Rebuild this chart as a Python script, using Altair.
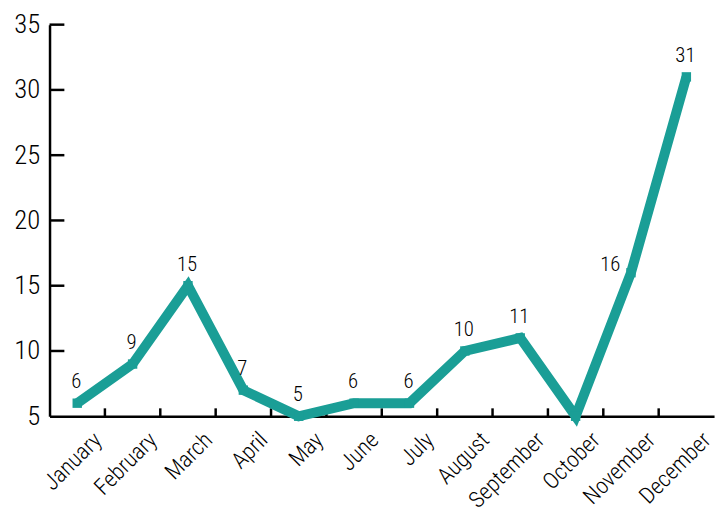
import altair as alt
import pandas as pd

months = ["January", "February", "March", "April", "May", "June", "July",
          "August", "September", "October", "November", "December"]
values = [6, 9, 15, 7, 5, 6, 6, 10, 11, 5, 16, 31]
y_ticks = [10, 15, 20, 25, 30, 35]

TEAL = "#1a9e96"
FONT = "Roboto Condensed, Liberation Sans Narrow, DejaVu Sans Condensed, Roboto, sans-serif"
W, H = 672, 396

df = pd.DataFrame({"month": months, "value": values})
tick_df = pd.DataFrame({"tick": y_ticks})

x_enc = alt.X("month:N", sort=months, title=None,
              scale=alt.Scale(paddingInner=0, paddingOuter=0),
              axis=alt.Axis(labelAngle=-45, labelFont=FONT, labelFontSize=23,
                            labelFontWeight=300,
                            labelColor="black", ticks=False, domainColor="black",
                            domainWidth=2.5, labelPadding=20, labelOffset=21))
y_enc = alt.Y("value:Q", title=None,
              scale=alt.Scale(domain=[5, 35], nice=False, zero=False),
              axis=alt.Axis(values=[5, 10, 15, 20, 25, 30, 35], labelFont=FONT,
                            labelFontSize=27, labelFontWeight=300,
                            labelColor="black", ticks=False,
                            domainColor="black", domainWidth=2.5, grid=False,
                            labelPadding=10))

base = alt.Chart(df)

line = base.mark_line(color=TEAL, strokeWidth=10).encode(x=x_enc, y=y_enc)
pts = base.mark_square(color=TEAL, size=90, opacity=1).encode(
    x=alt.X("month:N", sort=months), y=alt.Y("value:Q"))

labels = base.transform_filter(
    (alt.datum.month != "November") & (alt.datum.month != "October")
).mark_text(
    font=FONT, fontSize=21, fontWeight=300, color="black", dy=-21, dx=-1
).encode(x=alt.X("month:N", sort=months), y=alt.Y("value:Q"), text="value:Q")

labels_nov = base.transform_filter(alt.datum.month == "November").mark_text(
    font=FONT, fontSize=21, fontWeight=300, color="black", dy=-8, dx=-21
).encode(x=alt.X("month:N", sort=months), y=alt.Y("value:Q"), text="value:Q")

xticks = base.transform_filter(alt.datum.month != "December").mark_rule(
    color="black", strokeWidth=2.5
).encode(x=alt.X("month:N", sort=months, bandPosition=1),
         y=alt.value(H), y2=alt.value(H - 8))

yticks = alt.Chart(tick_df).mark_rule(color="black", strokeWidth=2.5).encode(
    y=alt.Y("tick:Q"), x=alt.value(0), x2=alt.value(15))

chart = alt.layer(xticks, yticks, line, pts, labels, labels_nov).properties(
    width=W, height=H,
    background="white",
    autosize=alt.AutoSizeParams(type="none"),
    padding={"left": 42, "top": 14, "right": 5, "bottom": 95},
).configure_view(strokeWidth=0, stroke=None)

chart.save("out.html", embed_options={"renderer": "svg", "actions": False})
